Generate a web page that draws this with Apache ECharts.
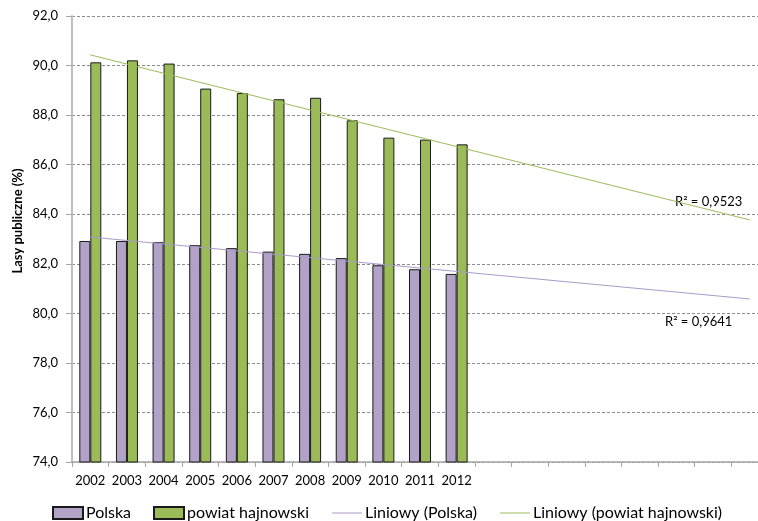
<!DOCTYPE html>
<html>
<head>
<meta charset="utf-8">
<script src="https://cdn.jsdelivr.net/npm/echarts@6/dist/echarts.min.js"></script>
<style>
html,body{margin:0;padding:0;background:#fff;}
#c{width:758px;height:521px;}
</style>
</head>
<body>
<div id="c"></div>
<script>
// ---- data ----
var categories = ['2002','2003','2004','2005','2006','2007','2008','2009','2010','2011','2012','','','','','','','',''];
var polska = [82.92, 82.92, 82.87, 82.75, 82.63, 82.49, 82.40, 82.23, 81.94, 81.78, 81.59];
var hajnowski = [90.13, 90.21, 90.08, 89.07, 88.89, 88.64, 88.70, 87.79, 87.09, 87.01, 86.82];
// trendline endpoints (first and last category)
var trendPolska = [83.08, 80.58];
var trendHajnowski = [90.43, 83.77];
var r2Polska = 'R² = 0,9641';
var r2Hajnowski = 'R² = 0,9523';
var yTicks = {min: 74, max: 92, interval: 2};

function trendData(ends) {
  var d = [];
  for (var i = 0; i < categories.length; i++) d.push('-');
  d[0] = ends[0];
  d[categories.length - 1] = ends[1];
  return d;
}

var FONT = 'Lato';
var chart = echarts.init(document.getElementById('c'), null, {renderer: 'canvas'});
var legendBase = {
  orient: 'horizontal', top: 505, padding: 0, itemWidth: 30, itemHeight: 12, itemGap: 0,
  textStyle: {fontFamily: FONT, fontSize: 16, color: '#000', padding: [0,0,0,-2]},
  selectedMode: false
};
var lineLegend = Object.assign({}, legendBase, {itemHeight: 1});
chart.setOption({
  animation: false,
  backgroundColor: '#fff',
  grid: {left: 72, top: 16, width: 696, height: 446, containLabel: false, outerBoundsMode: 'none'},
  legend: [
    Object.assign({}, legendBase, {left: 52, data: [{name: 'Polska', icon: 'rect'}]}),
    Object.assign({}, legendBase, {left: 153, data: [{name: 'powiat hajnowski', icon: 'rect'}]}),
    Object.assign({}, lineLegend, {left: 332, data: [{name: 'Liniowy (Polska)', icon: 'rect'}]}),
    Object.assign({}, lineLegend, {left: 500, data: [{name: 'Liniowy (powiat hajnowski)', icon: 'rect'}]})
  ],
  xAxis: {
    type: 'category',
    data: categories,
    boundaryGap: true,
    axisLine: {lineStyle: {color: '#A6A6A6', width: 1.5}},
    axisTick: {show: true, length: 5, interval: 0, lineStyle: {color: '#A6A6A6'}},
    axisLabel: {fontFamily: FONT, fontSize: 13, color: '#000', margin: 12, interval: 0},
    splitLine: {show: false}
  },
  yAxis: {
    type: 'value',
    min: yTicks.min, max: yTicks.max, interval: yTicks.interval,
    axisLine: {show: true, lineStyle: {color: '#BFBFBF', width: 2}},
    axisTick: {show: true, length: 6, lineStyle: {color: '#A6A6A6'}},
    axisLabel: {
      fontFamily: FONT, fontSize: 13, color: '#000', margin: 14,
      formatter: function (v) { return v.toFixed(1).replace('.', ','); }
    },
    splitLine: {show: true, lineStyle: {color: '#8C8C8C', type: [3, 2], width: 1}}
  },
  graphic: [
    {type: 'text', x: 18, y: 221, rotation: Math.PI / 2,
     style: {text: 'Lasy publiczne (%)', fill: '#000', font: 'bold 13px Lato',
       align: 'center', verticalAlign: 'middle', textAlign: 'center', textVerticalAlign: 'middle'}},
    {type: 'text', x: 675, y: 202,
     style: {text: r2Hajnowski, fill: '#000', font: '13px Lato',
       align: 'left', verticalAlign: 'middle', textAlign: 'left', textVerticalAlign: 'middle'}},
    {type: 'text', x: 665, y: 322,
     style: {text: r2Polska, fill: '#000', font: '13px Lato',
       align: 'left', verticalAlign: 'middle', textAlign: 'left', textVerticalAlign: 'middle'}}
  ],
  series: [
    {name: 'Polska', type: 'bar', data: polska, barGap: '0%', barCategoryGap: '40%',
     itemStyle: {color: '#B3A2C7', borderColor: '#1a1a1a', borderWidth: 1}},
    {name: 'powiat hajnowski', type: 'bar', data: hajnowski,
     itemStyle: {color: '#9BBB59', borderColor: '#1a1a1a', borderWidth: 1}},
    {name: 'Liniowy (Polska)', type: 'line', data: trendData(trendPolska), connectNulls: true,
     symbol: 'none', lineStyle: {color: '#A99BC9', width: 1}, itemStyle: {color: '#A99BC9'}, z: 5},
    {name: 'Liniowy (powiat hajnowski)', type: 'line', data: trendData(trendHajnowski), connectNulls: true,
     symbol: 'none', lineStyle: {color: '#9BBB59', width: 1}, itemStyle: {color: '#9BBB59'}, z: 5}
  ]
});
</script>
</body>
</html>
